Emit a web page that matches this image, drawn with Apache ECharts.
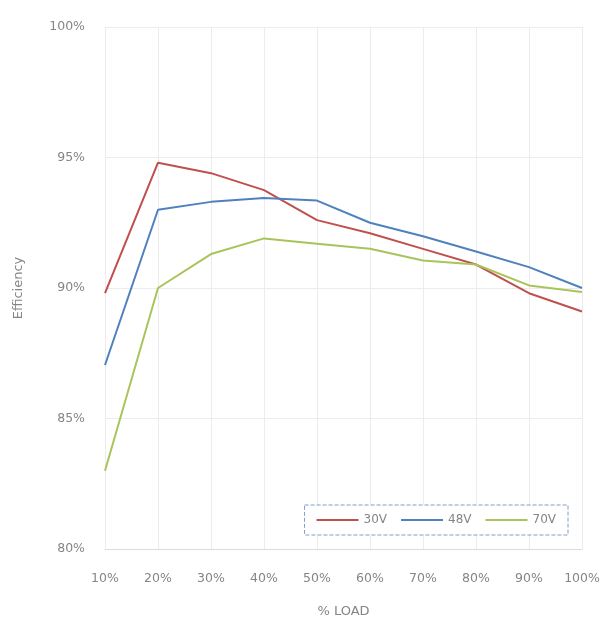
<!DOCTYPE html>
<html>
<head>
<meta charset="utf-8">
<script src="https://cdn.jsdelivr.net/npm/echarts@6/dist/echarts.min.js"></script>
<style>html,body{margin:0;padding:0;background:#fff}#c{width:607px;height:625px}</style>
</head>
<body>
<div id="c"></div>
<script>
var categories = ['10%','20%','30%','40%','50%','60%','70%','80%','90%','100%'];
var s30V = [89.8, 94.8, 94.4, 93.75, 92.6, 92.1, 91.5, 90.9, 89.8, 89.1];
var s48V = [87.05, 93.0, 93.3, 93.45, 93.35, 92.5, 91.98, 91.4, 90.8, 90.0];
var s70V = [83.0, 90.0, 91.3, 91.9, 91.7, 91.5, 91.05, 90.9, 90.1, 89.85];
var seriesNames = ['30V','48V','70V'];
var yTicks = [80, 85, 90, 95, 100];

var chart = echarts.init(document.getElementById('c'));
var font = 'DejaVu Sans';
var txt = '#858585';
chart.setOption({
  animation: false,
  grid: {left: 105, right: 25, top: 27, bottom: 76},
  legend: {
    data: seriesNames,
    right: 39, top: 505,
    itemWidth: 42, itemHeight: 2, itemGap: 14,
    padding: [9, 12],
    borderColor: '#7aa0c8', borderWidth: 1, borderType: 'dashed',
    backgroundColor: '#fff',
    icon: 'rect',
    textStyle: {color: txt, fontFamily: font, fontSize: 12}
  },
  xAxis: {
    type: 'category', data: categories, boundaryGap: false,
    name: '% LOAD', nameLocation: 'middle', nameGap: 56,
    nameTextStyle: {color: txt, fontFamily: font, fontSize: 13},
    axisLine: {lineStyle: {color: '#dcdcdc'}},
    axisTick: {show: false},
    axisLabel: {interval: 0, color: txt, fontFamily: font, fontSize: 12.5, margin: 23},
    splitLine: {show: true, lineStyle: {color: '#ececec'}}
  },
  yAxis: {
    type: 'value', min: yTicks[0], max: yTicks[yTicks.length-1], interval: 5,
    name: 'Efficiency', nameLocation: 'middle', nameGap: 80, nameRotate: 90,
    nameTextStyle: {color: txt, fontFamily: font, fontSize: 13},
    axisLine: {show: false}, axisTick: {show: false},
    axisLabel: {color: txt, fontFamily: font, fontSize: 12.5, margin: 20, formatter: function(v){return v + '%';}},
    splitLine: {lineStyle: {color: '#ececec'}}
  },
  series: [
    {name: seriesNames[0], type: 'line', data: s30V, symbol: 'none', lineStyle: {width: 2, color: '#c0504d'}, itemStyle: {color: '#c0504d'}},
    {name: seriesNames[1], type: 'line', data: s48V, symbol: 'none', lineStyle: {width: 2, color: '#4f81bd'}, itemStyle: {color: '#4f81bd'}},
    {name: seriesNames[2], type: 'line', data: s70V, symbol: 'none', lineStyle: {width: 2, color: '#a8c45a'}, itemStyle: {color: '#a8c45a'}}
  ]
});
</script>
</body>
</html>
